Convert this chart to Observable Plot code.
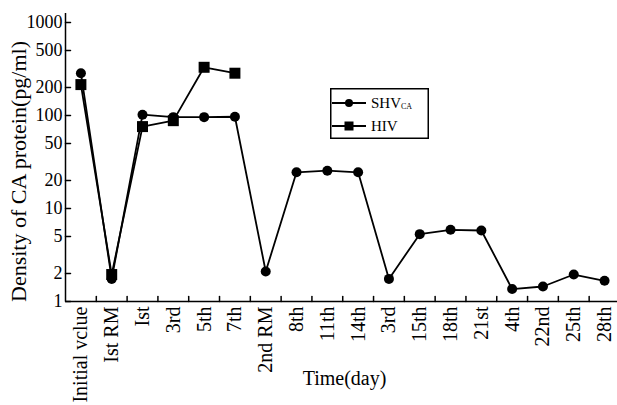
<!DOCTYPE html>
<html><head><meta charset="utf-8">
<script src="https://cdn.jsdelivr.net/npm/d3@7"></script>
<script src="https://cdn.jsdelivr.net/npm/@observablehq/plot@0.6"></script>
<style>
body{margin:0;background:#fff}
#chart{position:relative;width:617px;height:405px;overflow:hidden}
#legend{position:absolute;left:330px;top:88px}
</style>
</head><body><div id="chart"></div>
<script>
const categories = ["Initial vclue","Ist RM","Ist","3rd","5th","7th","2nd RM","8th","11th","14th","3rd","15th","18th","21st","4th","22nd","25th","28th"];
const shvValues = [285, 1.75, 102, 96, 96, 97, 2.1, 24.5, 25.5, 24.5, 1.75, 5.3, 5.9, 5.8, 1.36, 1.45, 1.95, 1.67];
const hivValues = [215, 1.95, 76, 88, 330, 285];
const yTicks = [1, 2, 5, 10, 20, 50, 100, 200, 500, 1000];
const yLabel = "Density of CA protein(pg/ml)";
const xLabel = "Time(day)";

const serif = "'Liberation Serif', 'Times New Roman', serif";
const shv = shvValues.map((v, i) => ({i, v}));
const hiv = hivValues.map((v, i) => ({i, v}));
const centers = categories.map((c, i) => i);
const bounds = categories.slice(1).map((c, i) => i + 0.5);
const tickShape = {draw(context, l) { context.moveTo(0, 0); context.lineTo(0, -l); }};

const plot = Plot.plot({
  width: 617, height: 405,
  marginLeft: 65, marginRight: 0, marginTop: 13, marginBottom: 104,
  style: {fontFamily: serif, fontSize: "18px", color: "#000", background: "#fff"},
  x: {type: "linear", domain: [-0.5, 17.42], axis: null},
  y: {type: "log", domain: [1, 1250], axis: null},
  marks: [
    Plot.vector(yTicks, {y: d => d, frameAnchor: "left", length: 5, rotate: 90, anchor: "start", shape: tickShape, stroke: "#000", strokeWidth: 1.5}),
    Plot.text(yTicks, {y: d => d, text: d => String(d), frameAnchor: "left", textAnchor: "end", dx: -3, fontSize: 18, fontFamily: serif, fill: "#000"}),
    Plot.vector(bounds, {x: d => d, frameAnchor: "bottom", length: 5, rotate: 0, anchor: "start", shape: tickShape, stroke: "#000", strokeWidth: 1.5}),
    Plot.axisX({ticks: centers, tickSize: 0, tickPadding: 5, tickRotate: -90, tickFormat: i => categories[i], label: null, fontSize: 20, fontFamily: serif}),
    Plot.ruleX([-0.5], {stroke: "#000", strokeWidth: 1.5}),
    Plot.ruleY([1], {stroke: "#000", strokeWidth: 1.5}),
    Plot.line(shv, {x: "i", y: "v", stroke: "#000", strokeWidth: 1.8}),
    Plot.line(hiv, {x: "i", y: "v", stroke: "#000", strokeWidth: 1.8}),
    Plot.dot(shv, {x: "i", y: "v", r: 5, fill: "#000", stroke: "none", symbol: "circle"}),
    Plot.dot(hiv, {x: "i", y: "v", r: 6.2, fill: "#000", stroke: "none", symbol: "square"}),
    Plot.text([yLabel], {text: d => d, frameAnchor: "left", textAnchor: "middle", dx: -47, dy: 14, rotate: -90, fontSize: 22, fontFamily: serif, fill: "#000"}),
    Plot.text([xLabel], {text: d => d, frameAnchor: "bottom", textAnchor: "middle", dx: 3, dy: 83, fontSize: 20, fontFamily: serif, fill: "#000"})
  ]
});
const chart = document.getElementById("chart");
chart.appendChild(plot);

// legend
const legendItems = [{name: "SHV", sub: "CA", symbol: "circle"}, {name: "HIV", sub: "", symbol: "square"}];
const lg = d3.select(chart).append("svg").attr("id", "legend").attr("width", 100).attr("height", 52)
  .style("font-family", serif);
lg.append("rect").attr("x", 0.75).attr("y", 0.75).attr("width", 97.5).attr("height", 49.5)
  .attr("fill", "#fff").attr("stroke", "#000").attr("stroke-width", 1.5);
legendItems.forEach((it, k) => {
  const cy = 15 + k * 23;
  lg.append("line").attr("x1", 2).attr("x2", 36).attr("y1", cy).attr("y2", cy).attr("stroke", "#000").attr("stroke-width", 1.8);
  if (it.symbol === "circle") lg.append("circle").attr("cx", 19).attr("cy", cy).attr("r", 4).attr("fill", "#000");
  else lg.append("rect").attr("x", 14.5).attr("y", cy - 4.5).attr("width", 9).attr("height", 9).attr("fill", "#000");
  const t = lg.append("text").attr("x", 41).attr("y", cy + 5).attr("font-size", 15).attr("fill", "#000").text(it.name);
  if (it.sub) t.append("tspan").attr("font-size", 8).attr("dy", 1).text(it.sub);
});
</script>
</body></html>
